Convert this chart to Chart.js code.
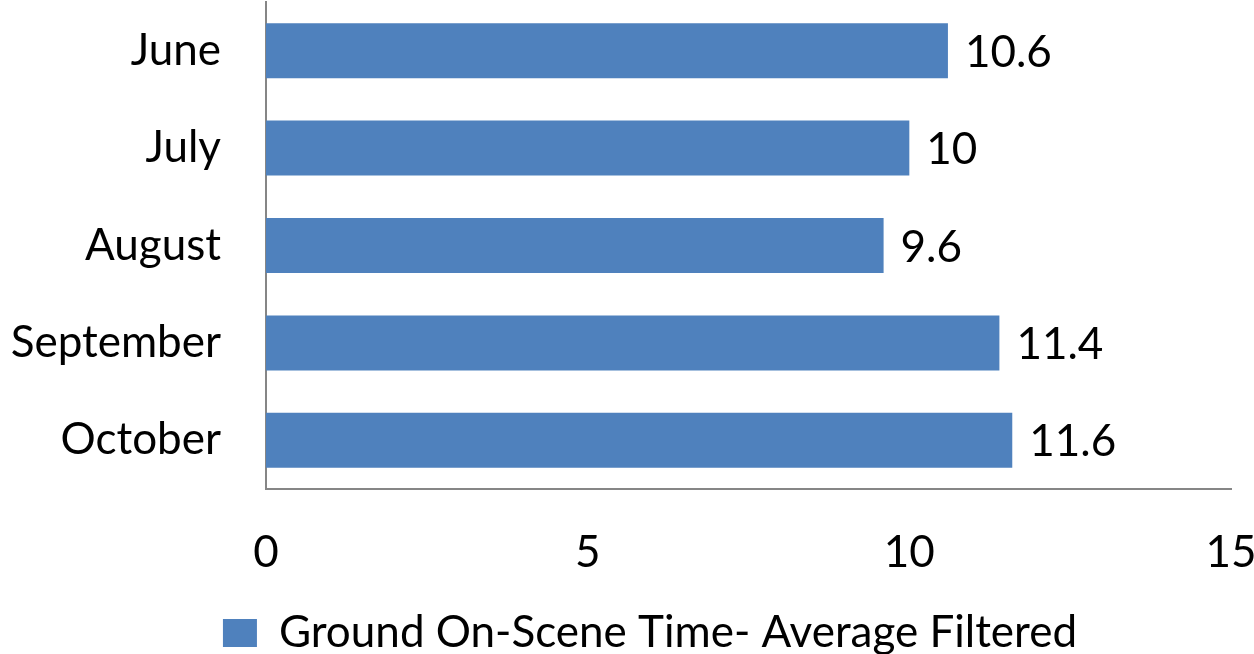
<!DOCTYPE html>
<html><head><meta charset="utf-8">
<script src="https://cdn.jsdelivr.net/npm/chart.js@4"></script>
<style>html,body{margin:0;padding:0;background:#fff}#wrap{width:1254px;height:654px}</style>
</head><body><div id="wrap"><canvas id="c" width="1254" height="654"></canvas></div>
<script>
const categories = ["June", "July", "August", "September", "October"];
const values = [10.6, 10, 9.6, 11.4, 11.6];
const seriesName = "Ground On-Scene Time- Average Filtered";
const xTicks = [0, 5, 10, 15];

const FONT = "Lato";
const FS = 44;
const SHIFT = 23;
const BOTTOM_PAD = -11;
const PLOT_BOTTOM = 489;
const PLOT_LEFT = 266;
const PLOT_RIGHT_GAP = 23;

const labelPlugin = {
  id: 'vlabels',
  afterDatasetsDraw(chart) {
    const ctx = chart.ctx;
    const meta = chart.getDatasetMeta(0);
    ctx.save();
    ctx.font = FS + "px " + FONT;
    ctx.fillStyle = "#000";
    ctx.textAlign = "left";
    ctx.textBaseline = "middle";
    meta.data.forEach((bar, i) => {
      ctx.fillText(String(values[i]), bar.x + 17, bar.y + 2);
    });
    ctx.restore();
  }
};

new Chart(document.getElementById('c'), {
  type: 'bar',
  data: {
    labels: categories,
    datasets: [{
      label: seriesName,
      data: values,
      backgroundColor: '#4F81BD',
      borderWidth: 0,
      barPercentage: 0.565,
      categoryPercentage: 1.0
    }]
  },
  options: {
    indexAxis: 'y',
    responsive: false,
    animation: false,
    devicePixelRatio: 1,
    layout: { padding: { top: 2, right: -SHIFT, left: SHIFT, bottom: BOTTOM_PAD } },
    plugins: {
      legend: {
        position: 'bottom',
        labels: {
          font: { family: FONT, size: FS },
          color: '#000',
          boxWidth: 34,
          boxHeight: 28,
          padding: 0
        }
      },
      tooltip: { enabled: false }
    },
    scales: {
      x: {
        min: 0, max: 15,
        afterBuildTicks(scale) { scale.ticks = xTicks.map(v => ({ value: v })); },
        grid: { display: false, drawTicks: false },
        border: { display: true, color: '#868686', width: 2 },
        ticks: { font: { family: FONT, size: FS }, color: '#000', padding: 37, maxRotation: 0 },
        afterFit(scale) {
          scale.paddingLeft = 0;
          scale.paddingRight = PLOT_RIGHT_GAP;
          scale._computeLabelArea = function () { return undefined; };
          const lg = scale.chart.legend;
          scale.height = 654 - BOTTOM_PAD - (lg ? lg.height : 60) - PLOT_BOTTOM;
        }
      },
      y: {
        grid: { display: false, drawTicks: false },
        border: { display: true, color: '#868686', width: 2 },
        ticks: { font: { family: FONT, size: FS }, color: '#000', padding: 45 },
        afterFit(scale) {
          scale.paddingTop = 0; scale.paddingBottom = 0;
          scale._computeLabelArea = function () { return undefined; };
          scale.width = PLOT_LEFT - SHIFT;
        }
      }
    }
  },
  plugins: [labelPlugin]
});
</script></body></html>
